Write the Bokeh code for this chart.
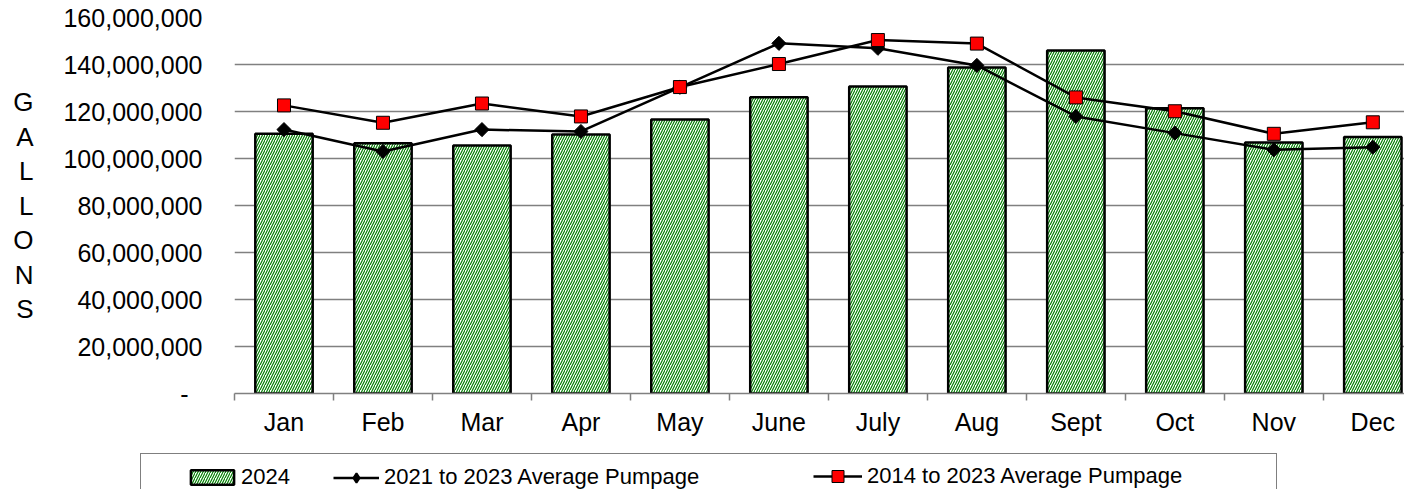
import math
from bokeh.plotting import figure
from bokeh.layouts import column
from bokeh.models import (Range1d, FixedTicker, NumeralTickFormatter, Legend,
                          LegendItem, ColumnDataSource)
from bokeh.embed import file_html
from bokeh.resources import INLINE

months = ["Jan", "Feb", "Mar", "Apr", "May", "June", "July", "Aug", "Sept", "Oct", "Nov", "Dec"]
pumpage_2024 = [110.5e6, 106.5e6, 105.5e6, 110.2e6, 116.6e6, 126.1e6,
                130.6e6, 138.7e6, 146.0e6, 121.4e6, 106.8e6, 109.1e6]
avg_2021_2023 = [112.3e6, 103.0e6, 112.3e6, 111.5e6, 130.3e6, 149.0e6,
                 146.9e6, 139.6e6, 117.9e6, 110.8e6, 103.7e6, 104.8e6]
avg_2014_2023 = [122.6e6, 115.2e6, 123.4e6, 117.9e6, 130.4e6, 140.2e6,
                 150.4e6, 148.9e6, 126.0e6, 120.1e6, 110.5e6, 115.4e6]
y_ticks = [0, 20e6, 40e6, 60e6, 80e6, 100e6, 120e6, 140e6, 160e6]
series_labels = ["2024", "2021 to 2023 Average Pumpage", "2014 to 2023 Average Pumpage"]

FONT = "Liberation Sans"
W = 1404
HATCH = dict(fill_color="white", line_color="black", line_width=2.5,
             hatch_pattern="/", hatch_color="#008000", hatch_scale=5,
             hatch_weight=1.2)

x_pos = [i + 0.5 for i in range(len(months))]
src = ColumnDataSource(dict(x=x_pos, p24=pumpage_2024,
                            a21=avg_2021_2023, a14=avg_2014_2023))

p = figure(width=W, height=445, output_backend="svg", toolbar_location=None,
           x_range=Range1d(0, 11.82), y_range=Range1d(0, 160e6),
           min_border_left=234, min_border_right=0, min_border_top=17,
           min_border_bottom=52)
p.outline_line_color = None

p.vbar(x="x", top="p24", bottom=0, width=0.58, source=src, **HATCH)
p.line("x", "a21", source=src, line_color="black", line_width=2.5)
p.scatter("x", "a21", source=src, marker="square", angle=math.pi / 4,
          size=10, fill_color="black", line_color="black")
p.line("x", "a14", source=src, line_color="black", line_width=2.5)
p.scatter("x", "a14", source=src, marker="square", size=13,
          fill_color="#FF0000", line_color="black", line_width=1)

# x axis
xa = p.xaxis[0]
xa.ticker = FixedTicker(ticks=x_pos, minor_ticks=list(range(13)))
xa.major_label_overrides = {x: m for x, m in zip(x_pos, months)}
xa.major_tick_line_color = None
xa.major_tick_out = 0
xa.major_tick_in = 0
xa.minor_tick_out = 7
xa.minor_tick_in = 0
xa.minor_tick_line_color = "#808080"
xa.minor_tick_line_width = 1.5
xa.axis_line_color = "#808080"
xa.axis_line_width = 1.5
xa.major_label_text_font = FONT
xa.major_label_text_font_size = "25px"
xa.major_label_text_color = "black"
xa.major_label_standoff = 7

# y axis
ya = p.yaxis[0]
ya.ticker = FixedTicker(ticks=y_ticks)
ya.formatter = NumeralTickFormatter(format="0,0")
ya.major_label_overrides = {0: "-\u00a0\u00a0"}
ya.axis_line_color = None
ya.major_tick_line_color = None
ya.minor_tick_line_color = None
ya.major_tick_out = 0
ya.major_label_standoff = 32
ya.major_label_text_font = FONT
ya.major_label_text_font_size = "25px"
ya.major_label_text_color = "black"
ya.axis_label = "\n".join("GALLONS")
ya.axis_label_orientation = "horizontal"
ya.axis_label_text_font = FONT
ya.axis_label_text_font_size = "26px"
ya.axis_label_text_font_style = "normal"
ya.axis_label_text_color = "black"
ya.axis_label_text_line_height = 1.15
ya.axis_label_standoff = 27

p.xgrid.grid_line_color = None
p.ygrid.ticker = FixedTicker(ticks=y_ticks)
p.ygrid.grid_line_color = "#808080"
p.ygrid.grid_line_width = 1.5

# ---- legend strip (separate figure below; its series are hidden, only the legend shows) ----
lf = figure(width=W, height=44, output_backend="svg", toolbar_location=None,
            x_range=Range1d(0, 11.82), y_range=Range1d(0, 160e6),
            x_axis_location=None, y_axis_location=None,
            min_border=0, min_border_left=0, min_border_right=0,
            min_border_top=0, min_border_bottom=0)
lf.outline_line_color = None
lf.xgrid.visible = False
lf.ygrid.visible = False
for fig in (p, lf):
    try:
        fig.frame_align = False
    except Exception:
        pass

lbars = lf.vbar(x="x", top="p24", bottom=0, width=0.58, source=src, **HATCH)
ll21 = lf.line("x", "a21", source=src, line_color="black", line_width=2.5)
lm21 = lf.scatter("x", "a21", source=src, marker="diamond", size=10,
                  fill_color="black", line_color="black", line_width=2)
ll14 = lf.line("x", "a14", source=src, line_color="black", line_width=2.5)
lm14 = lf.scatter("x", "a14", source=src, marker="square", size=13,
                  fill_color="#FF0000", line_color="black", line_width=1)
for r in (lbars, ll21, lm21, ll14, lm14):
    r.visible = False

dummy = lf.scatter(x=[], y=[], size=1, fill_alpha=0, line_alpha=0)
box_legend = Legend(items=[LegendItem(label=" ", renderers=[dummy])],
                    location=(140, -26), orientation="horizontal",
                    padding=0, margin=0, spacing=0, glyph_width=10,
                    glyph_height=60, label_standoff=0, label_width=1125,
                    label_height=60, border_line_color="black",
                    border_line_width=1, background_fill_color="white",
                    background_fill_alpha=1, label_text_font_size="1px",
                    inactive_fill_alpha=0)
lf.add_layout(box_legend)


def make_legend(item, loc, gw, gh, standoff):
    lg = Legend(items=[item], location=loc, orientation="horizontal",
                padding=0, margin=0, spacing=0, glyph_width=gw, glyph_height=gh,
                label_height=gh, label_standoff=standoff,
                border_line_color=None, background_fill_alpha=0,
                inactive_fill_alpha=0,
                label_text_font=FONT, label_text_font_size="22px",
                label_text_color="black")
    lf.add_layout(lg)


make_legend(LegendItem(label=series_labels[0], renderers=[lbars]), (185, -1), 54, 18, 2)
make_legend(LegendItem(label=series_labels[1], renderers=[ll21, lm21]), (333, -1), 46, 23, 5)
make_legend(LegendItem(label=series_labels[2], renderers=[ll14, lm14]), (813, -2), 49, 30, 5)

layout = column(p, lf, spacing=0)
open("out.html", "w").write(file_html(layout, INLINE))
